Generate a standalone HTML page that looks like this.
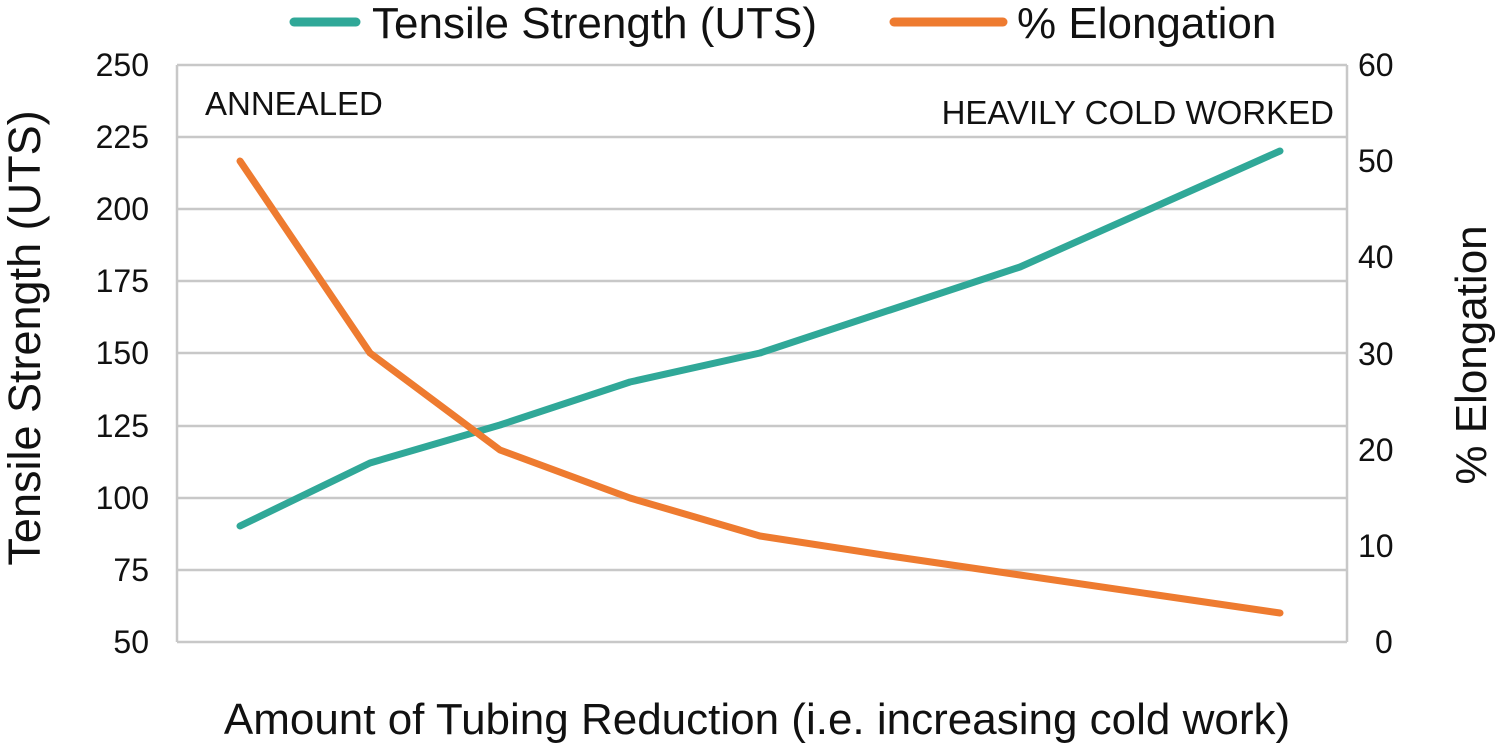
<!DOCTYPE html>
<html><head><meta charset="utf-8"><style>
html,body{margin:0;padding:0;background:#fff;}
svg text{font-family:"Liberation Sans",Arial,sans-serif;fill:#111;}
</style></head><body>
<svg width="1500" height="748" viewBox="0 0 1500 748" xmlns="http://www.w3.org/2000/svg">
<g stroke="#c8c8c8" stroke-width="2.5">
<line x1="177" y1="65" x2="1347" y2="65"/>
<line x1="177" y1="137" x2="1347" y2="137"/>
<line x1="177" y1="209" x2="1347" y2="209"/>
<line x1="177" y1="281" x2="1347" y2="281"/>
<line x1="177" y1="353" x2="1347" y2="353"/>
<line x1="177" y1="426" x2="1347" y2="426"/>
<line x1="177" y1="498" x2="1347" y2="498"/>
<line x1="177" y1="570" x2="1347" y2="570"/>
<line x1="177" y1="642" x2="1347" y2="642"/>
<line x1="177" y1="65" x2="177" y2="642"/>
<line x1="1347" y1="65" x2="1347" y2="642"/>
</g>
<g font-size="32" text-anchor="end">
<text x="149" y="76">250</text><text x="149" y="148">225</text><text x="149" y="220">200</text>
<text x="149" y="292">175</text><text x="149" y="364">150</text><text x="149" y="437">125</text>
<text x="149" y="509">100</text><text x="149" y="581">75</text><text x="149" y="653">50</text>
</g>
<g font-size="32" text-anchor="start">
<text x="1358" y="76">60</text><text x="1358" y="172">50</text><text x="1358" y="268">40</text>
<text x="1358" y="365">30</text><text x="1358" y="461">20</text><text x="1358" y="557">10</text>
<text x="1375" y="653">0</text>
</g>
<text x="205" y="115" font-size="33">ANNEALED</text>
<text x="1334" y="124" font-size="33" text-anchor="end">HEAVILY COLD WORKED</text>
<polyline fill="none" stroke="#30a898" stroke-width="7" stroke-linejoin="round" stroke-linecap="round"
 points="240,526 370,463 500,425 630,382 760,353 890,310 1020,267 1150,209 1280,151"/>
<polyline fill="none" stroke="#ee7b30" stroke-width="7" stroke-linejoin="round" stroke-linecap="round"
 points="240,161 370,353 500,450 630,498 760,536 890,556 1020,575 1150,594 1280,613"/>
<line x1="294" y1="22" x2="356" y2="22" stroke="#30a898" stroke-width="9" stroke-linecap="round"/>
<text x="372" y="38" font-size="44">Tensile Strength (UTS)</text>
<line x1="894" y1="22" x2="1003" y2="22" stroke="#ee7b30" stroke-width="9" stroke-linecap="round"/>
<text x="1017" y="38" font-size="44">% Elongation</text>
<text transform="translate(40,338) rotate(-90)" font-size="45" text-anchor="middle">Tensile Strength (UTS)</text>
<text transform="translate(1486,355) rotate(-90)" font-size="44" text-anchor="middle">% Elongation</text>
<text x="757" y="734" font-size="44" text-anchor="middle">Amount of Tubing Reduction (i.e. increasing cold work)</text>
</svg>
</body></html>
